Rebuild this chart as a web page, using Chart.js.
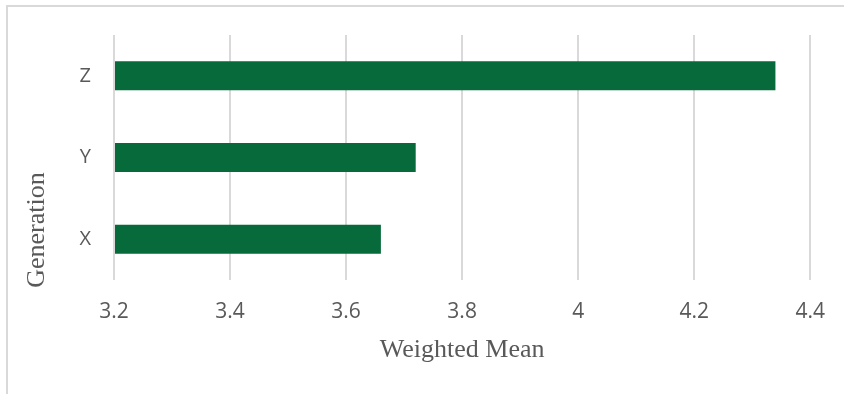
<!DOCTYPE html>
<html>
<head>
<meta charset="utf-8">
<script src="https://cdn.jsdelivr.net/npm/chart.js@4/dist/chart.umd.min.js"></script>
<style>
  html, body { margin: 0; padding: 0; background: #ffffff; }
  #frame {
    position: absolute; left: 0; top: 0; width: 844px; height: 394px; overflow: hidden;
  }
  #border {
    position: absolute; left: 6px; top: 5px; width: 900px; height: 450px;
    border: 2px solid #d9d9d9; box-sizing: border-box;
  }
  canvas { position: absolute; left: 0; top: 0; }
</style>
</head>
<body>
<div id="frame">
  <div id="border"></div>
  <canvas id="chart" width="844" height="394"></canvas>
</div>
<script>
// Weighted mean score by generation
const generations = ['X', 'Y', 'Z'];
const weightedMeans = [3.66, 3.72, 4.34];
const xTickLabels = ['3.2', '3.4', '3.6', '3.8', '4', '4.2', '4.4'];
const xAxisTitle = 'Weighted Mean';
const yAxisTitle = 'Generation';

const textGray = '#595959';
const gridGray = '#d9d9d9';
const barGreen = '#066a3a';

// Axis titles drawn beside the plot area
const axisTitles = {
  id: 'axisTitles',
  afterDraw(chart) {
    const { ctx, chartArea } = chart;
    ctx.save();
    ctx.fillStyle = textGray;
    ctx.font = '26px "Liberation Serif", "Times New Roman", serif';
    ctx.textAlign = 'center';
    ctx.textBaseline = 'middle';
    ctx.fillText(xAxisTitle, (chartArea.left + chartArea.right) / 2, chartArea.bottom + 70);
    ctx.translate(chartArea.left - 77, chartArea.bottom - 50);
    ctx.rotate(-Math.PI / 2);
    ctx.fillText(yAxisTitle, 0, 0);
    ctx.restore();
  }
};

new Chart(document.getElementById('chart'), {
  type: 'bar',
  data: {
    labels: generations,
    datasets: [{
      data: weightedMeans,
      base: 3.2,
      backgroundColor: barGreen,
      borderWidth: 0,
      categoryPercentage: 1,
      barPercentage: 0.355
    }]
  },
  options: {
    indexAxis: 'y',
    responsive: false,
    animation: false,
    layout: { padding: { top: 35, right: 33, left: 0, bottom: 0 } },
    plugins: {
      legend: { display: false },
      tooltip: { enabled: false }
    },
    scales: {
      x: {
        min: 3.2,
        max: 4.4,
        border: { display: false },
        grid: { color: gridGray, lineWidth: 2, drawTicks: false },
        ticks: {
          stepSize: 0.2,
          padding: 19,
          color: textGray,
          font: { family: '"Open Sans", sans-serif', size: 21 },
          callback: (v, i) => xTickLabels[i]
        },
        afterFit(scale) { scale.height = 114; }
      },
      y: {
        reverse: true,
        border: { display: false },
        grid: { display: false, drawTicks: false },
        ticks: {
          padding: 23,
          color: textGray,
          font: { family: '"Open Sans", sans-serif', size: 20 }
        },
        afterFit(scale) { scale.width = 114; }
      }
    }
  },
  plugins: [axisTitles]
});
</script>
</body>
</html>
